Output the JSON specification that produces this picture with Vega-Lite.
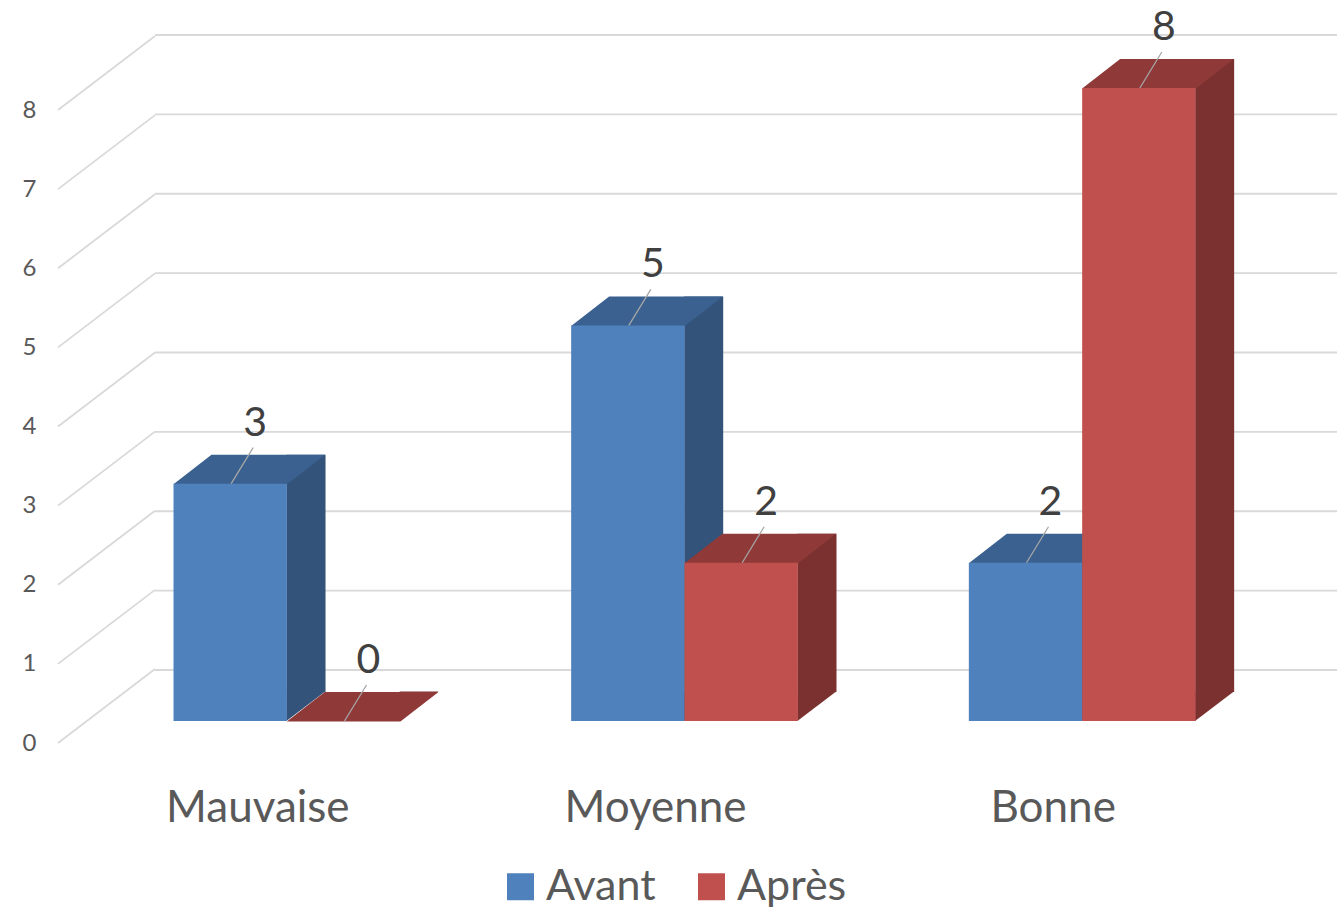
{
  "$schema": "https://vega.github.io/schema/vega-lite/v6.json",
  "width": 1337,
  "height": 760,
  "autosize": {"type": "none"},
  "padding": {"left": 0, "top": 0, "right": 0, "bottom": 150},
  "background": "white",
  "config": {"view": {"stroke": null}, "font": "Lato"},
  "datasets": {
    "bars": [
      {"cat": "Mauvaise", "series": "Avant", "value": 3},
      {"cat": "Mauvaise", "series": "Après", "value": 0},
      {"cat": "Moyenne", "series": "Avant", "value": 5},
      {"cat": "Moyenne", "series": "Après", "value": 2},
      {"cat": "Bonne", "series": "Avant", "value": 2},
      {"cat": "Bonne", "series": "Après", "value": 8}
    ],
    "levels": [
      {"v": 0}, {"v": 1}, {"v": 2}, {"v": 3}, {"v": 4}, {"v": 5}, {"v": 6}, {"v": 7}, {"v": 8}
    ]
  },
  "layer": [
    {
      "data": {"name": "levels"},
      "mark": {"type": "rule", "stroke": "#D9D9D9", "strokeWidth": 1.8, "y2Offset": -74},
      "encoding": {
        "x": {"datum": 0, "type": "quantitative", "scale": {"domain": [0, 1], "range": [58, 155]}, "axis": null},
        "x2": {"datum": 1},
        "y": {
          "field": "v", "type": "quantitative",
          "scale": {"domain": [0, 8], "range": [743, 110]},
          "axis": {"orient": "left", "offset": -40, "values": [0, 1, 2, 3, 4, 5, 6, 7, 8], "domain": false, "ticks": false, "tickSize": 0, "grid": false, "labelPadding": 4, "labelFontSize": 24, "labelColor": "#595959", "labelFont": "Lato", "title": null}
        },
        "y2": {"field": "v"}
      }
    },
    {
      "data": {"name": "levels"},
      "mark": {"type": "rule", "stroke": "#D9D9D9", "strokeWidth": 1.8},
      "encoding": {
        "x": {"datum": 0, "type": "quantitative", "scale": {"domain": [0, 1], "range": [155, 1337]}, "axis": null},
        "x2": {"datum": 1},
        "y": {"field": "v", "type": "quantitative", "scale": {"domain": [0, 8], "range": [670, 35]}, "axis": null}
      }
    },
    {
      "data": {"name": "bars"},
      "encoding": {
        "x": {
          "field": "cat", "type": "nominal", "sort": ["Mauvaise", "Moyenne", "Bonne"],
          "scale": {"range": [88, 1281], "paddingInner": 0.43, "paddingOuter": 0.215},
          "axis": {"orient": "bottom", "title": null, "domain": false, "ticks": false, "tickSize": 0, "grid": false, "labelAngle": 0, "labelFontSize": 44, "labelColor": "#595959", "labelFont": "Lato", "labelOffset": -29, "labelPadding": 61, "labelBaseline": "alphabetic", "labelLimit": 0, "labelOverlap": false}
        },
        "y": {"field": "value", "type": "quantitative", "scale": {"domain": [0, 8], "range": [721, 88]}, "axis": null}
      },
      "layer": [
        {
          "transform": [{"filter": "datum.series === 'Avant'"}],
          "mark": {"type": "bar", "width": 39, "xOffset": 19.2, "yOffset": -29, "y2Offset": -29, "color": "#33537A"}
        },
        {
          "transform": [{"filter": "datum.series === 'Après'"}],
          "mark": {"type": "bar", "width": 39, "xOffset": 132.5, "yOffset": -29, "y2Offset": -29, "color": "#7B3130"}
        },
        {
          "mark": {"type": "point", "shape": "M 56.2 -29.5 L 95 -29.5 L 56.2 0 Z", "size": 4, "filled": true, "opacity": 1, "strokeWidth": 0},
          "encoding": {
            "xOffset": {"field": "series", "type": "nominal", "sort": ["Avant", "Après"], "scale": {"paddingInner": 0, "paddingOuter": 0}},
            "y": {"datum": 0, "type": "quantitative"},
            "color": {"condition": {"test": "datum.series === 'Avant'", "value": "#33537A"}, "value": "#7B3130"}
          }
        },
        {
          "mark": {"type": "point", "shape": "M -56.7 0.5 L 56.9 0.5 L 95 -29 L -18.7 -29 Z", "size": 4, "filled": true, "opacity": 1, "strokeWidth": 0},
          "encoding": {
            "xOffset": {"field": "series", "type": "nominal", "sort": ["Avant", "Après"], "scale": {"paddingInner": 0, "paddingOuter": 0}},
            "color": {"condition": {"test": "datum.series === 'Avant'", "value": "#3B6190"}, "value": "#8F3A39"}
          }
        },
        {
          "mark": {"type": "bar"},
          "encoding": {
            "xOffset": {"field": "series", "type": "nominal", "sort": ["Avant", "Après"], "scale": {"paddingInner": 0, "paddingOuter": 0}},
            "color": {
              "field": "series", "type": "nominal", "sort": ["Avant", "Après"],
              "scale": {"domain": ["Avant", "Après"], "range": ["#4F81BD", "#C0504D"]},
              "legend": {"title": null, "orient": "none", "legendX": 499, "legendY": 865, "direction": "horizontal", "symbolType": "square", "symbolSize": 729, "symbolStrokeWidth": 0, "symbolOpacity": 1, "labelFontSize": 43, "labelColor": "#595959", "labelFont": "Lato", "labelOffset": 4, "labelLimit": 0, "columnPadding": 34, "padding": 0}
            }
          }
        },
        {
          "mark": {"type": "point", "shape": "M 1 0 L 23 -36", "size": 4, "filled": false, "opacity": 1, "strokeWidth": 1.3, "color": "#A6A6A6"},
          "encoding": {
            "xOffset": {"field": "series", "type": "nominal", "sort": ["Avant", "Après"], "scale": {"paddingInner": 0, "paddingOuter": 0}}
          }
        },
        {
          "mark": {"type": "text", "dx": 25, "dy": -60, "fontSize": 41, "font": "Lato", "color": "#404040", "baseline": "middle", "align": "center"},
          "encoding": {
            "xOffset": {"field": "series", "type": "nominal", "sort": ["Avant", "Après"], "scale": {"paddingInner": 0, "paddingOuter": 0}},
            "text": {"field": "value", "type": "quantitative"}
          }
        }
      ]
    }
  ],
  "resolve": {"scale": {"x": "independent", "y": "independent"}}
}
